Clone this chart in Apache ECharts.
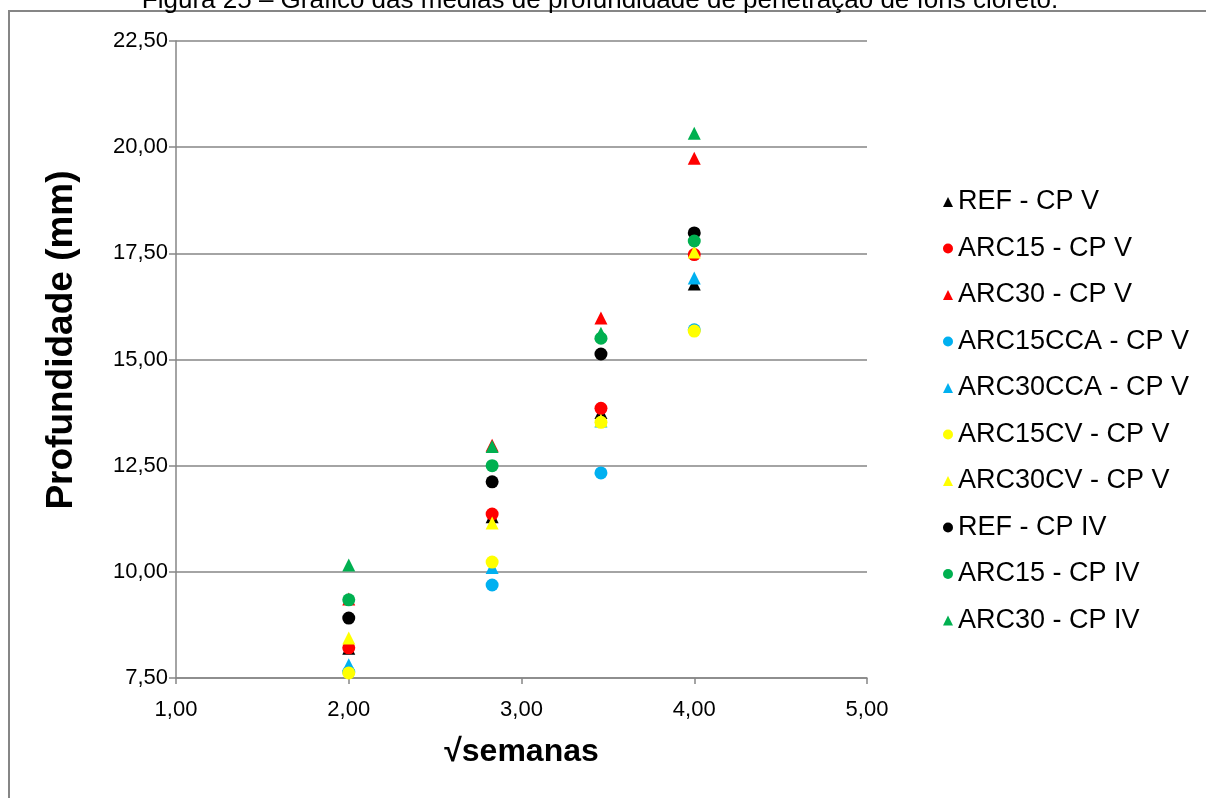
<!DOCTYPE html>
<html>
<head>
<meta charset="utf-8">
<script src="https://cdn.jsdelivr.net/npm/echarts@6/dist/echarts.min.js"></script>
<style>
html,body{margin:0;padding:0;background:#fff;}
#c{width:1206px;height:798px;}
</style>
</head>
<body>
<div id="c"></div>
<script>
// x positions (√semanas)
var xVals = [2.00, 2.83, 3.46, 4.00];
// series names, in legend order
var seriesNames = ['REF - CP V','ARC15 - CP V','ARC30 - CP V','ARC15CCA - CP V','ARC30CCA - CP V','ARC15CV - CP V','ARC30CV - CP V','REF - CP IV','ARC15 - CP IV','ARC30 - CP IV'];
// depth values (mm) for each series at the four x positions
var refCPV      = [8.20, 11.30, 13.75, 16.78];
var arc15CPV    = [8.21, 11.36, 13.85, 17.47];
var arc30CPV    = [9.36, 12.98, 15.98, 19.74];
var arc15ccaCPV = [7.64, 9.69, 12.33, 15.70];
var arc30ccaCPV = [7.81, 10.10, 13.55, 16.92];
var arc15cvCPV  = [7.62, 10.23, 13.52, 15.67];
var arc30cvCPV  = [8.44, 11.15, 13.57, 17.53];
var refCPIV     = [8.91, 12.12, 15.13, 17.98];
var arc15CPIV   = [9.34, 12.50, 15.50, 17.79];
var arc30CPIV   = [10.16, 12.95, 15.62, 20.33];
var yTicks = ['7,50','10,00','12,50','15,00','17,50','20,00','22,50'];

var allValues = [refCPV, arc15CPV, arc30CPV, arc15ccaCPV, arc30ccaCPV, arc15cvCPV, arc30cvCPV, refCPIV, arc15CPIV, arc30CPIV];
var colors = ['#000000','#FF0000','#FF0000','#00B0F0','#00B0F0','#FFFF00','#FFFF00','#000000','#00B050','#00B050'];
var symbols = ['triangle','circle','triangle','circle','triangle','circle','triangle','circle','circle','triangle'];

var FONT = '"Liberation Sans", Arial, sans-serif';
function fmt(v){ return v.toFixed(2).replace('.', ','); }

var series = seriesNames.map(function(name, i){
  return {
    name: name,
    type: 'scatter',
    symbol: symbols[i],
    symbolSize: 13,
    itemStyle: { color: colors[i], opacity: 1 },
    data: xVals.map(function(x, j){ return [x, allValues[i][j]]; }),
    z: 2 + i
  };
});

var chart = echarts.init(document.getElementById('c'), null, {renderer:'canvas'});
chart.setOption({
  animation: false,
  backgroundColor: '#ffffff',
  graphic: [
    { type: 'rect', shape: { x: 9, y: 11, width: 1400, height: 1000 },
      style: { fill: 'none', stroke: '#868686', lineWidth: 2 }, z: 0 },
    { type: 'text', x: 600, y: 14,
      style: { text: 'Figura 25 – Gráfico das médias de profundidade de penetração de íons cloreto.',
               font: '26px ' + FONT, fill: '#000', textAlign: 'center', textVerticalAlign: 'bottom' }, z: 1 },
    { type: 'text', x: 62, y: 340, rotation: Math.PI / 2,
      style: { text: 'Profundidade (mm)', font: 'bold 37px ' + FONT, fill: '#000',
               textAlign: 'center', textVerticalAlign: 'middle' }, z: 1 }
  ],
  grid: { left: 176, right: 339, top: 41, bottom: 120, containLabel: false },
  legend: {
    orient: 'vertical', left: 938, top: 183,
    itemWidth: 10, itemHeight: 10, itemGap: 18.5,
    data: seriesNames.map(function(n, i){ return { name: n, icon: symbols[i] }; }),
    textStyle: { fontFamily: FONT, fontSize: 27, color: '#000', lineHeight: 28 }
  },
  xAxis: {
    type: 'value', min: 1, max: 5, interval: 1,
    name: '√semanas', nameLocation: 'middle', nameGap: 58,
    nameTextStyle: { fontFamily: FONT, fontSize: 32, fontWeight: 'bold', color: '#000' },
    axisLine: { show: true, lineStyle: { color: '#868686', width: 1.5 } },
    axisTick: { show: true, inside: false, length: 6, lineStyle: { color: '#868686', width: 1.5 } },
    axisLabel: { margin: 21, fontFamily: FONT, fontSize: 22, color: '#000', formatter: fmt },
    splitLine: { show: false }
  },
  yAxis: {
    type: 'value', min: 7.5, max: 22.5, interval: 2.5,
    axisLine: { show: true, lineStyle: { color: '#868686', width: 1.5 } },
    axisTick: { show: true, inside: false, length: 7, lineStyle: { color: '#868686', width: 1.5 } },
    axisLabel: { margin: 8, fontFamily: FONT, fontSize: 22, color: '#000',
      formatter: function(v){ var k = Math.round((v - 7.5) / 2.5); return yTicks[k] !== undefined ? yTicks[k] : fmt(v); } },
    splitLine: { show: true, lineStyle: { color: '#868686', width: 1.5 } }
  },
  series: series
});
</script>
</body>
</html>
